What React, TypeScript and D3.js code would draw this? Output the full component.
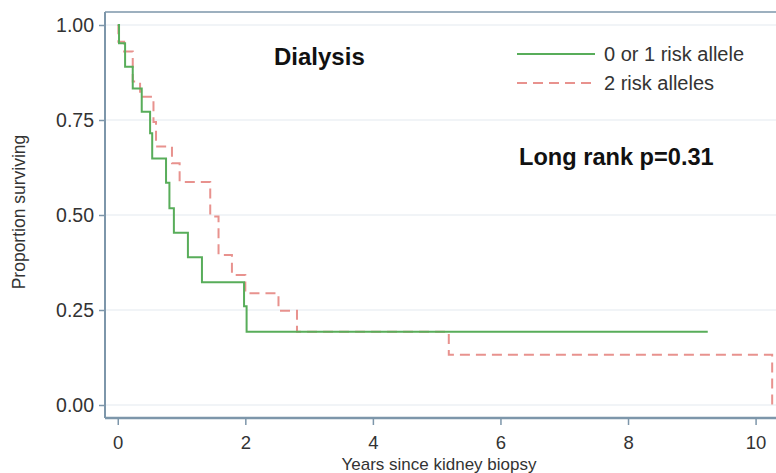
import React, { useEffect, useRef } from 'react';
import * as d3 from 'd3';

// Kaplan-Meier steps (years, proportion surviving)
const lowRiskTimes = [0, 0.02, 0.115, 0.235, 0.376, 0.507, 0.54, 0.757, 0.81, 0.88, 1.1, 1.32, 1.98, 2.02, 9.25];
const lowRiskSurv = [1.0, 0.952, 0.89, 0.833, 0.772, 0.715, 0.649, 0.585, 0.518, 0.453, 0.389, 0.323, 0.26, 0.193, 0.193];

const highRiskTimes = [0, 0.01, 0.1, 0.235, 0.35, 0.56, 0.6, 0.85, 0.97, 1.45, 1.58, 1.79, 2.0, 2.52, 2.81, 5.19, 10.26];
const highRiskSurv = [1.0, 0.956, 0.93, 0.851, 0.811, 0.745, 0.68, 0.636, 0.587, 0.496, 0.395, 0.342, 0.294, 0.248, 0.193, 0.132, 0.0];

const yTicks = [0, 0.25, 0.5, 0.75, 1];
const xTicks = [0, 2, 4, 6, 8, 10];
const legendLabels = ['0 or 1 risk allele', '2 risk alleles'];

const GREEN = '#58ad5a';
const PINK = '#e8928e';
const AXIS = '#7d96aa';
const FONT = 'Liberation Sans, Arial, sans-serif';

const App = () => {
  const ref = useRef<SVGSVGElement>(null);

  useEffect(() => {
    const svg = d3.select(ref.current);
    svg.selectAll('*').remove();

    const left = 105, right = 776, top = 12, bottom = 418;
    const x = d3.scaleLinear().domain([-0.2, 10.32]).range([left, right]);
    const y = d3.scaleLinear().domain([-0.0342, 1.0342]).range([bottom, top]);

    // gridlines
    svg.append('g')
      .selectAll('line')
      .data(yTicks)
      .enter()
      .append('line')
      .attr('x1', left)
      .attr('x2', right)
      .attr('y1', d => y(d))
      .attr('y2', d => y(d))
      .attr('stroke', '#edf1f4')
      .attr('stroke-width', 1.5);

    // top frame
    svg.append('line')
      .attr('x1', left).attr('x2', right)
      .attr('y1', top).attr('y2', top)
      .attr('stroke', AXIS).attr('stroke-width', 1.5);

    // y axis
    const yAxis = svg.append('g')
      .attr('transform', `translate(${left},0)`)
      .call(d3.axisLeft(y).tickValues(yTicks).tickFormat(d3.format('.2f')).tickSize(6).tickPadding(5));
    yAxis.select('.domain').attr('stroke', AXIS).attr('stroke-width', 2).attr('d', `M0,${top}V${bottom}`);
    yAxis.selectAll('.tick line').attr('stroke', AXIS).attr('stroke-width', 1.5);
    yAxis.selectAll('.tick text')
      .attr('fill', '#333')
      .style('font-family', FONT)
      .style('font-size', '19.5px');

    // x axis
    const xAxis = svg.append('g')
      .attr('transform', `translate(0,${bottom})`)
      .call(d3.axisBottom(x).tickValues(xTicks).tickFormat(d3.format('d')).tickSize(7).tickPadding(11));
    xAxis.select('.domain').attr('stroke', AXIS).attr('stroke-width', 2.5).attr('d', `M${left},0H${right}`);
    xAxis.selectAll('.tick line').attr('stroke', AXIS).attr('stroke-width', 1.5);
    xAxis.selectAll('.tick text')
      .attr('fill', '#333')
      .style('font-family', FONT)
      .style('font-size', '18.5px');

    // axis titles
    svg.append('text')
      .attr('x', 439)
      .attr('y', 469.5)
      .attr('text-anchor', 'middle')
      .attr('fill', '#333')
      .style('font-family', FONT)
      .style('font-size', '17px')
      .text('Years since kidney biopsy');

    svg.append('text')
      .attr('transform', 'translate(25,212) rotate(-90)')
      .attr('text-anchor', 'middle')
      .attr('fill', '#333')
      .style('font-family', FONT)
      .style('font-size', '17.5px')
      .text('Proportion surviving');

    // survival curves
    const line = d3.line<[number, number]>()
      .x(d => x(d[0]))
      .y(d => y(d[1]))
      .curve(d3.curveStepAfter);

    const highData = highRiskTimes.map((t, i) => [t, highRiskSurv[i]] as [number, number]);
    const lowData = lowRiskTimes.map((t, i) => [t, lowRiskSurv[i]] as [number, number]);

    svg.append('path')
      .datum(highData)
      .attr('d', line)
      .attr('fill', 'none')
      .attr('stroke', PINK)
      .attr('stroke-width', 2)
      .attr('stroke-dasharray', '10,6');

    svg.append('path')
      .datum(lowData)
      .attr('d', line)
      .attr('fill', 'none')
      .attr('stroke', GREEN)
      .attr('stroke-width', 2);

    // annotations
    svg.append('text')
      .attr('x', 274)
      .attr('y', 65)
      .attr('fill', '#111')
      .style('font-family', FONT)
      .style('font-size', '24px')
      .style('font-weight', 'bold')
      .text('Dialysis');

    svg.append('text')
      .attr('x', 519)
      .attr('y', 165)
      .attr('fill', '#111')
      .style('font-family', FONT)
      .style('font-size', '23.6px')
      .style('font-weight', 'bold')
      .text('Long rank p=0.31');

    // legend
    const legend = svg.append('g');
    const styles = [
      { color: GREEN, dash: null },
      { color: PINK, dash: '10,6' },
    ];
    legendLabels.forEach((label, i) => {
      const ly = 54 + i * 29;
      legend.append('line')
        .attr('x1', 517).attr('x2', 595)
        .attr('y1', ly).attr('y2', ly)
        .attr('stroke', styles[i].color)
        .attr('stroke-width', 2)
        .attr('stroke-dasharray', styles[i].dash);
      legend.append('text')
        .attr('x', 604)
        .attr('y', ly)
        .attr('dy', '0.35em')
        .attr('fill', '#333')
        .style('font-family', FONT)
        .style('font-size', '20px')
        .text(label);
    });
  }, []);

  return (
    <svg
      ref={ref}
      width={776}
      height={473}
      style={{ position: 'absolute', left: 0, top: 0, background: '#fff' }}
    />
  );
};

export default App;
